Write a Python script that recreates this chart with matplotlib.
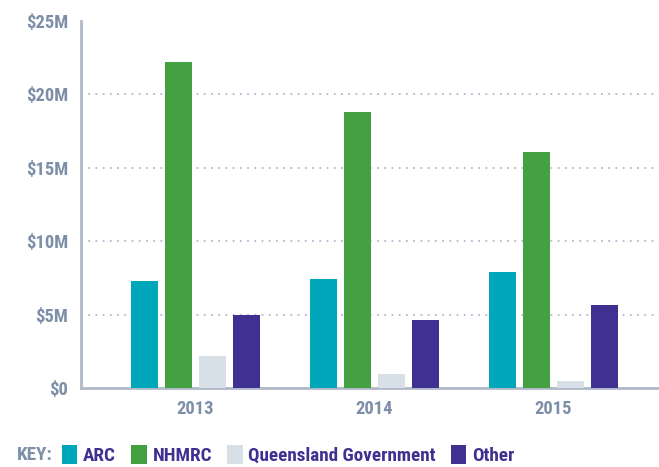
import matplotlib
matplotlib.use("Agg")
import matplotlib.pyplot as plt
from matplotlib.patches import Patch
import numpy as np

years = ["2013", "2014", "2015"]
series = ["ARC", "NHMRC", "Queensland Government", "Other"]
arc = [7.3, 7.4, 7.9]
nhmrc = [22.2, 18.8, 16.1]
qld = [2.2, 0.95, 0.5]
other = [5.0, 4.65, 5.65]
colors = ["#00A6BA", "#44A142", "#D6E0E6", "#3F3091"]
yticks = [0, 5, 10, 15, 20, 25]
ytick_labels = ["$0", "$5M", "$10M", "$15M", "$20M", "$25M"]

plt.rcParams["font.family"] = ["Roboto Condensed", "DejaVu Sans"]
plt.rcParams["font.weight"] = "bold"

W, H = 659, 467
fig = plt.figure(figsize=(W / 100, H / 100), dpi=100)
ax = fig.add_axes([81 / W, (H - 388) / H, (W - 81) / W, (388 - 21) / H])

values = [arc, nhmrc, qld, other]
x = np.arange(len(years))
bw = 27 / 179
step = 34 / 179
for i, (vals, c) in enumerate(zip(values, colors)):
    ax.bar(x + (i - 1.5) * step, vals, width=bw, color=c, zorder=3, label=series[i])

ax.set_xlim(-0.64, 2.59)
ax.set_ylim(0, 25)
ax.set_yticks(yticks)
ax.set_yticklabels(ytick_labels)
ax.set_xticks(x)
ax.set_xticklabels(years)
tick_col = "#7D8FA8"
ax.tick_params(axis="both", length=0, labelsize=13.3, labelcolor=tick_col)
ax.tick_params(axis="y", pad=9)
ax.tick_params(axis="x", pad=9)
for lab in ax.get_xticklabels() + ax.get_yticklabels():
    lab.set_fontweight("bold")

for s in ["top", "right"]:
    ax.spines[s].set_visible(False)
for s in ["left", "bottom"]:
    ax.spines[s].set_color("#B0B8CA")
    ax.spines[s].set_linewidth(2)
ax.yaxis.grid(True, linestyle=(0, (1, 3)), color="#B4B8CE", linewidth=1.3, zorder=0)
ax.get_ygridlines()[-1].set_visible(False)
ax.set_axisbelow(True)

fig.text(17 / W, 1 - 455 / H, "KEY:", color=tick_col, fontsize=13.8, fontweight="bold",
         va="center", ha="left")
handles = [Patch(facecolor=c, edgecolor="none") for c in colors]
leg = fig.legend(handles, series, loc="center left", bbox_to_anchor=(62 / W, 1 - 455 / H),
                 ncol=4, frameon=False, handlelength=0.8, handleheight=1.1,
                 handletextpad=0.3, columnspacing=0.8, borderaxespad=0, borderpad=0,
                 prop={"size": 13.8, "weight": "bold"})
for t in leg.get_texts():
    t.set_color("#3F3091")

fig.savefig("out.png", dpi=100)
